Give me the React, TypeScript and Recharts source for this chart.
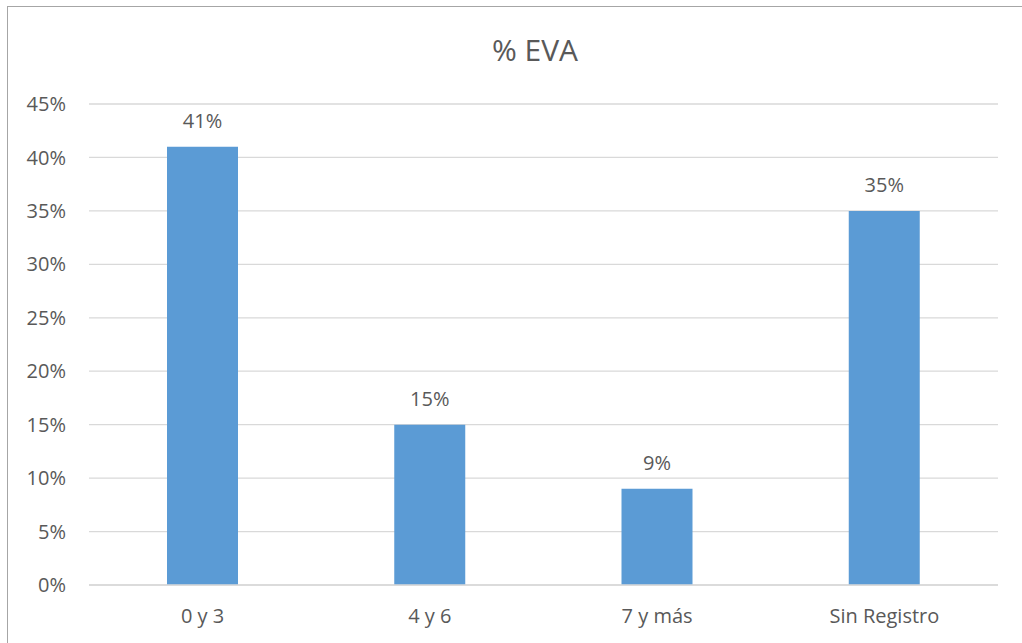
import React from 'react';
import { BarChart, Bar, XAxis, YAxis, CartesianGrid, LabelList } from 'recharts';

// Categorías y porcentajes del gráfico
const categories = ['0 y 3', '4 y 6', '7 y más', 'Sin Registro'];
const percentages = [41, 15, 9, 35];
const yTicks = [0, 5, 10, 15, 20, 25, 30, 35, 40, 45];

const data = categories.map((name, i) => ({ name, value: percentages[i] }));

const FONT = '"Open Sans", "Liberation Sans", sans-serif';
const TEXT = '#595959';

export default function App() {
    return (
        <div style={{ position: 'absolute', left: 0, top: 0, width: 1022, height: 643, overflow: 'hidden', background: '#fff', fontFamily: FONT }}>
            {/* marco del área del gráfico */}
            <div style={{ position: 'absolute', left: 7, top: 6, width: 1040, height: 660, border: '1px solid #a6a6a6' }} />
            <div style={{ position: 'absolute', left: 0, width: 1070, top: 29, lineHeight: '42px', textAlign: 'center', fontSize: 30, color: TEXT }}>
                % EVA
            </div>
            <div style={{ position: 'absolute', left: 0, top: 0 }}>
                <BarChart width={1022} height={643} data={data} margin={{ top: 104, right: 24, left: 0, bottom: 0 }}>
                    <CartesianGrid vertical={false} stroke="#d9d9d9" strokeWidth={1.3} />
                    <XAxis
                        dataKey="name"
                        height={58}
                        tickLine={false}
                        tickSize={0}
                        tickMargin={24}
                        axisLine={{ stroke: '#d9d9d9', strokeWidth: 1.3 }}
                        tick={{ fill: TEXT, fontSize: 20, fontFamily: FONT }}
                    />
                    <YAxis
                        width={89}
                        domain={[0, 45]}
                        ticks={yTicks}
                        interval={0}
                        tickFormatter={(v: number) => `${v}%`}
                        axisLine={false}
                        tickLine={false}
                        tickSize={0}
                        tickMargin={23}
                        tick={{ fill: TEXT, fontSize: 20, fontFamily: FONT }}
                    />
                    <Bar dataKey="value" fill="#5b9bd5" barSize={71} isAnimationActive={false}>
                        <LabelList
                            dataKey="value"
                            position="top"
                            offset={19}
                            formatter={(v: any) => `${v}%`}
                            style={{ fill: TEXT, fontSize: 20, fontFamily: FONT }}
                        />
                    </Bar>
                </BarChart>
            </div>
        </div>
    );
}
